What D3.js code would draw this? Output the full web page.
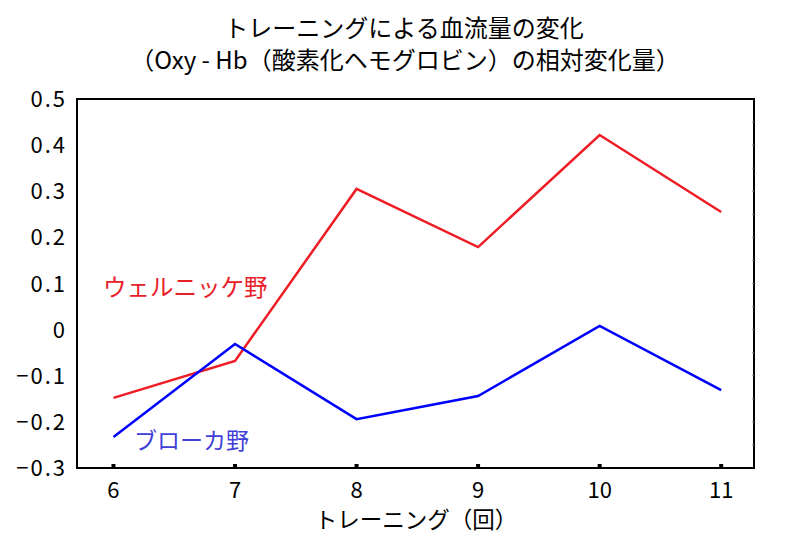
<!DOCTYPE html>
<html><head><meta charset="utf-8">
<script src="https://cdn.jsdelivr.net/npm/d3@7"></script>
<style>body{margin:0;background:#fff}svg{display:block}text{font-family:"Noto Sans CJK JP","Noto Sans",sans-serif}</style>
</head><body>
<svg id="c" width="786" height="545"></svg>
<script>
const trainings = [6, 7, 8, 9, 10, 11];
const wernicke = [-0.148, -0.068, 0.305, 0.179, 0.422, 0.255];
const broca = [-0.233, -0.031, -0.194, -0.144, 0.008, -0.131];
const yTicks = [0.5, 0.4, 0.3, 0.2, 0.1, 0, -0.1, -0.2, -0.3];
const yTickLabels = ["0.5", "0.4", "0.3", "0.2", "0.1", "0", "−0.1", "−0.2", "−0.3"];
const title1 = "トレーニングによる血流量の変化";
const title2 = "（Oxy - Hb（酸素化ヘモグロビン）の相対変化量）";
const xTitle = "トレーニング（回）";
const seriesNames = ["ウェルニッケ野", "ブローカ野"];

const svg = d3.select("#c");
const L = 77, R = 754, T = 99, B = 468;
const x = d3.scaleLinear().domain([5.7, 11.27]).range([L, R]);
const y = d3.scaleLinear().domain([-0.3, 0.5]).range([B, T]);

// frame
svg.append("rect").attr("x", L).attr("y", T).attr("width", R - L).attr("height", B - T)
  .attr("fill", "none").attr("stroke", "#000").attr("stroke-width", 2);

// x axis tick marks (small squares above axis)
svg.append("g").selectAll("rect").data(trainings).join("rect")
  .attr("x", d => x(d) - 2).attr("y", B - 4).attr("width", 4).attr("height", 4).attr("fill", "#000");

// right axis minor ticks
const minor = d3.range(-0.25, 0.5, 0.05);
svg.append("g").selectAll("line").data(minor).join("line")
  .attr("x1", R - 2).attr("x2", R).attr("y1", d => y(d)).attr("y2", d => y(d))
  .attr("stroke", "#888").attr("stroke-width", 1);

// x tick labels
svg.append("g").selectAll("text").data(trainings).join("text")
  .attr("x", d => x(d)).attr("y", 498).attr("text-anchor", "middle")
  .attr("font-size", 22).attr("fill", "#000").text(d => d);

// y tick labels
svg.append("g").selectAll("text").data(yTicks).join("text")
  .attr("x", 67).attr("y", d => y(d) + 8).attr("text-anchor", "end")
  .attr("font-size", 22).attr("letter-spacing", "2px").attr("fill", "#000")
  .text((d, i) => yTickLabels[i]);

// titles
svg.append("text").attr("x", 404).attr("y", 37).attr("text-anchor", "middle")
  .attr("font-size", 24).attr("fill", "#000").text(title1);
svg.append("text").attr("x", 405).attr("y", 69).attr("text-anchor", "middle")
  .attr("font-size", 24).attr("fill", "#000").text(title2);
svg.append("text").attr("x", 416).attr("y", 528).attr("text-anchor", "middle")
  .attr("font-size", 22.5).attr("fill", "#000").text(xTitle);

// lines
const line = d3.line().x((d, i) => x(trainings[i])).y(d => y(d));
svg.append("path").datum(wernicke).attr("d", line).attr("fill", "none")
  .attr("stroke", "#ee1c25").attr("stroke-width", 2.5);
svg.append("path").datum(broca).attr("d", line).attr("fill", "none")
  .attr("stroke", "#0000ff").attr("stroke-width", 2.5);

// series labels
svg.append("text").attr("x", 103).attr("y", 296).attr("font-size", 23.5)
  .attr("fill", "#e8202a").text(seriesNames[0]);
svg.append("text").attr("x", 134).attr("y", 449).attr("font-size", 23)
  .attr("fill", "#3f3fd8").text(seriesNames[1]);
</script>
</body></html>
